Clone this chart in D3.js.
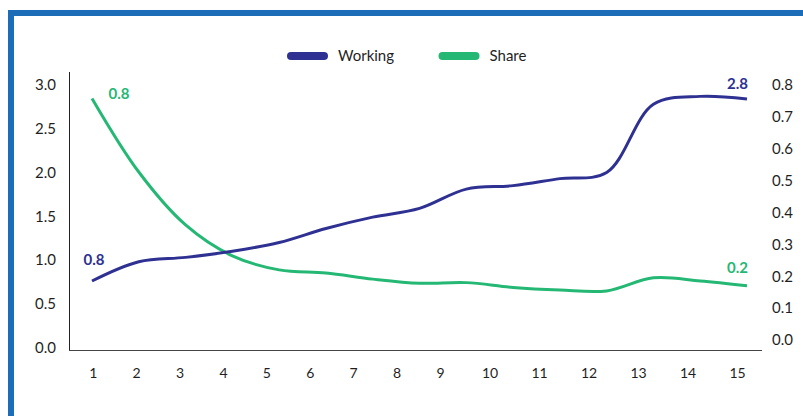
<!DOCTYPE html>
<html>
<head>
<meta charset="utf-8">
<script src="https://cdn.jsdelivr.net/npm/d3@7"></script>
<style>
  html, body { margin: 0; padding: 0; background: #fff; }
  svg { display: block; font-family: Lato, "Open Sans", sans-serif; }
</style>
</head>
<body>
<svg id="chart" width="803" height="416"></svg>
<script>
// Periods on the x axis
const periods = [1, 2, 3, 4, 5, 6, 7, 8, 9, 10, 11, 12, 13, 14, 15];
// Left-axis series
const working = [0.76, 0.98, 1.03, 1.10, 1.20, 1.36, 1.49, 1.59, 1.81, 1.85, 1.93, 2.00, 2.78, 2.87, 2.84];
// Right-axis series
const share = [0.758, 0.527, 0.361, 0.264, 0.220, 0.210, 0.191, 0.178, 0.180, 0.165, 0.157, 0.154, 0.195, 0.185, 0.170];
// Axis tick values
const leftTicks = [0, 0.5, 1.0, 1.5, 2.0, 2.5, 3.0];
const rightTicks = [0, 0.1, 0.2, 0.3, 0.4, 0.5, 0.6, 0.7, 0.8];
const seriesNames = ["Working", "Share"];

const blue = "#2e3192";
const green = "#25b875";
const textColor = "#1f1f1f";

const svg = d3.select("#chart");

// Outer frame
svg.append("rect")
  .attr("x", 11).attr("y", 13)
  .attr("width", 900).attr("height", 500)
  .attr("fill", "none")
  .attr("stroke", "#1a6db6")
  .attr("stroke-width", 6);

const x = d3.scalePoint().domain(periods).range([92, 747]);
// tick labels are spaced a little wider towards the right end
const xLabel = d3.scaleLinear().domain([1, 9, 15]).range([92.7, 440, 737]);
const yL = d3.scaleLinear().domain([0, 3]).range([347.5, 85]);
const yR = d3.scaleLinear().domain([0, 0.8]).range([340, 85]);

// Axis lines
svg.append("line")
  .attr("x1", 69.5).attr("x2", 69.5).attr("y1", 72).attr("y2", 350.5)
  .attr("stroke", "#222").attr("stroke-width", 1);
svg.append("line")
  .attr("x1", 69).attr("x2", 762).attr("y1", 350.5).attr("y2", 350.5)
  .attr("stroke", "#444").attr("stroke-width", 1);

// Left axis
const gL = svg.append("g").attr("transform", "translate(56,0)")
  .call(d3.axisLeft(yL).tickValues(leftTicks).tickFormat(d3.format(".1f")).tickSize(0).tickPadding(0));
gL.select(".domain").remove();
gL.selectAll("text").attr("font-size", 15).attr("fill", textColor).attr("font-family", "Lato, sans-serif");

// Right axis
const gR = svg.append("g").attr("transform", "translate(793,0)")
  .call(d3.axisLeft(yR).tickValues(rightTicks).tickFormat(d3.format(".1f")).tickSize(0).tickPadding(0));
gR.select(".domain").remove();
gR.selectAll("text").attr("font-size", 15).attr("fill", textColor).attr("font-family", "Lato, sans-serif");

// Bottom axis
const gX = svg.append("g").attr("transform", "translate(0,368)")
  .call(d3.axisBottom(xLabel).tickValues(periods).tickFormat(d3.format("d")).tickSize(0).tickPadding(0));
gX.select(".domain").remove();
gX.selectAll("text").attr("font-size", 14).attr("fill", textColor).attr("font-family", "Lato, sans-serif");

// Smoothed lines
const curve = d3.curveCatmullRom.alpha(0.5);
const lineL = d3.line().x((d, i) => x(periods[i])).y(d => yL(d)).curve(curve);
const lineR = d3.line().x((d, i) => x(periods[i])).y(d => yR(d)).curve(curve);

svg.append("path").datum(share)
  .attr("d", lineR).attr("fill", "none")
  .attr("stroke", green).attr("stroke-width", 3).attr("stroke-linecap", "butt");
svg.append("path").datum(working)
  .attr("d", lineL).attr("fill", "none")
  .attr("stroke", blue).attr("stroke-width", 3).attr("stroke-linecap", "butt");

// End-point value labels
const fmt = d3.format(".1f");
const last = periods.length - 1;
const valueLabels = [
  { v: share[0], x: x(periods[0]) + 27, y: yR(share[0]) - 5, anchor: "middle", color: green },
  { v: working[0], x: x(periods[0]) + 2, y: yL(working[0]) - 21, anchor: "middle", color: blue },
  { v: working[last], x: x(periods[last]) + 1, y: yL(working[last]) - 15, anchor: "end", color: blue },
  { v: share[last], x: x(periods[last]) + 1, y: yR(share[last]) - 18, anchor: "end", color: green }
];
svg.selectAll(".vlabel").data(valueLabels).enter().append("text")
  .attr("class", "vlabel")
  .attr("x", d => d.x).attr("y", d => d.y)
  .attr("dy", "0.35em")
  .attr("text-anchor", d => d.anchor)
  .attr("font-size", 15).attr("font-weight", 700)
  .attr("fill", d => d.color)
  .text(d => fmt(d.v));

// Legend
const legend = [
  { name: seriesNames[0], color: blue, x: 287 },
  { name: seriesNames[1], color: green, x: 438.5 }
];
const lg = svg.selectAll(".legend").data(legend).enter().append("g")
  .attr("class", "legend")
  .attr("transform", d => `translate(${d.x},56)`);
lg.append("line")
  .attr("x1", 4).attr("x2", 37).attr("y1", 0).attr("y2", 0)
  .attr("stroke", d => d.color).attr("stroke-width", 8).attr("stroke-linecap", "round");
lg.append("text")
  .attr("x", 51).attr("y", 0).attr("dy", "0.35em")
  .attr("font-size", 15).attr("fill", textColor)
  .text(d => d.name);
</script>
</body>
</html>
